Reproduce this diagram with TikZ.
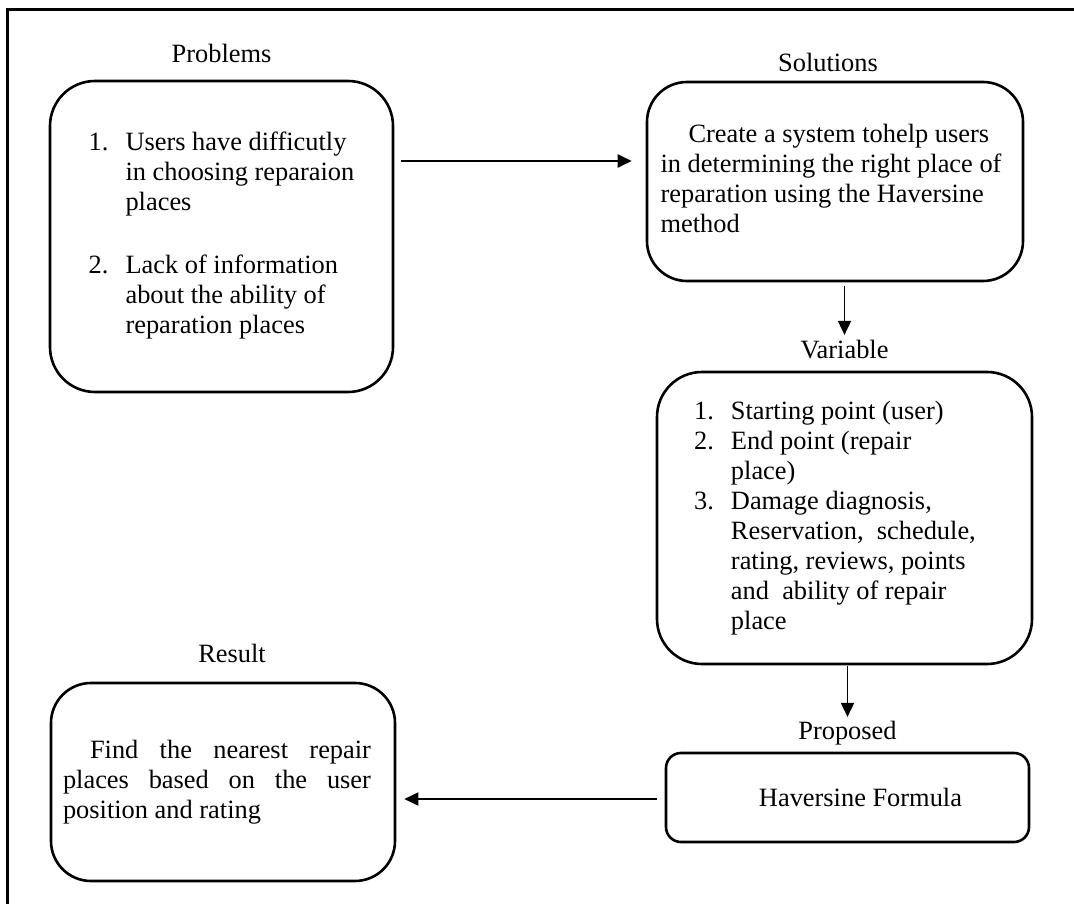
\documentclass[tikz,border=0pt]{standalone}
\usepackage{fontspec}
\setmainfont{Liberation Serif}
\usepackage{tikz}
\usetikzlibrary{positioning,arrows.meta}

\begin{document}
\begin{tikzpicture}[x=1pt,y=-1pt,->,>={Triangle[length=14pt,width=13pt]},line width=1.8pt,
      font=\fontsize{26.4}{30}\selectfont,
      box node/.style={draw,line width=2.6pt,rounded corners=#1,inner sep=0pt},
      box node/.default=42pt,
      title node/.style={inner sep=0pt,text height=18pt,text depth=6pt}]
      \useasboundingbox (0,0) rectangle (1074,904);
      \draw[-,line width=3pt] (7,904) -- (7,10) -- (1074,10);

      \node[box node=45pt,minimum width=343pt,minimum height=311pt] (prob) at (221.5,236.5)
        {\begin{tabular}{@{}l@{\hspace{17pt}}l@{}}
          1. & Users have difficutly\\
             & in choosing reparaion\\
             & places\\[33pt]
          2. & Lack of information\\
             & about the ability of\\
             & reparation places
        \end{tabular}};
      \node[title node] (probT) [above=10pt of prob] {Problems};

      \node[box node=40pt,minimum width=376pt,minimum height=199pt] (sol) at (835,181.5)
        {\begin{tabular}{@{}l@{\hspace{8pt}}}
          \hspace*{28pt}Create a system tohelp users\\
          in determining the right place of\\
          reparation using the Haversine\\
          method
        \end{tabular}};
      \node[title node] (solT) [above=2pt of sol,xshift=-7pt] {Solutions};

      \node[box node=45pt,minimum width=375pt,minimum height=292pt] (var) at (844.5,518)
        {\begin{tabular}{@{}l@{\hspace{17pt}}l@{\hspace{19pt}}}
          1. & Starting point (user)\\
          2. & End point (repair\\
             & place)\\
          3. & Damage diagnosis,\\
             & Reservation,\ \ schedule,\\
             & rating, reviews, points\\
             & and\ \ ability of repair\\
             & place
        \end{tabular}};
      \node[title node] (varT) [above=5pt of var] {Variable};

      \node[box node=15pt,minimum width=363pt,minimum height=89pt] (prop) at (847.5,797.5)
        {\hspace*{26pt}Haversine Formula};
      \node[title node] (propT) [above=5pt of prop] {Proposed};

      \node[box node=40pt,minimum width=344pt,minimum height=198pt] (res) at (223,782)
        {\parbox{308pt}{\hspace*{27pt}Find the nearest repair\linebreak
          places based on the user\linebreak
          position and rating}\hspace*{12pt}};
      \node[title node] (resT) [above=12pt of res,xshift=9pt] {Result};

      \path[->]
        (prob.east |- 0,161) edge [line width=2.2pt,shorten <=7pt,shorten >=14pt] (sol.west |- 0,161)
        (sol.south -| varT) edge [shorten <=4pt,shorten >=5pt] (varT.north)
        (var.south -| propT) edge [shorten <=1pt,shorten >=4pt] (propT.north)
        (prop.west |- 0,799) edge [shorten <=8pt,shorten >=8pt] (res.east |- 0,799);
    \end{tikzpicture}
\end{document}
